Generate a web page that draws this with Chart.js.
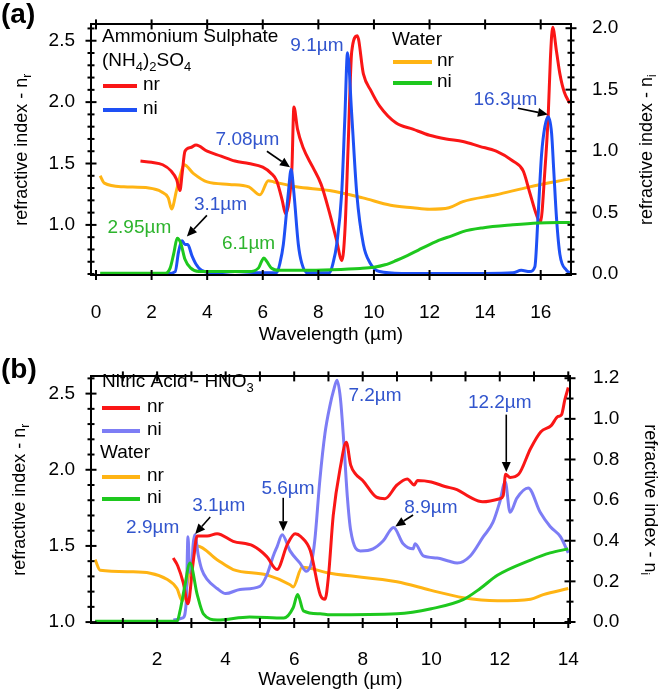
<!DOCTYPE html>
<html>
<head>
<meta charset="utf-8">
<script src="https://cdn.jsdelivr.net/npm/chart.js@4.4.1/dist/chart.umd.min.js"></script>
<style>
  html, body { margin: 0; padding: 0; background: #fff; }
  canvas { display: block; }
</style>
</head>
<body>
<canvas id="chartA" width="661" height="350"></canvas>
<canvas id="chartB" width="661" height="345"></canvas>
<script>
// ---------- panel (a): ammonium sulphate vs water ----------
const sulphNrX = [1.6, 2.0, 2.4, 2.7, 2.9, 3.02, 3.1, 3.2, 3.4, 3.6, 4.0, 4.5, 5.0, 5.5, 6.0, 6.3, 6.5, 6.7, 6.82, 6.95, 7.05, 7.12, 7.25, 7.45, 7.8, 8.1, 8.4, 8.65, 8.85, 8.96, 9.07, 9.2, 9.4, 9.62, 9.9, 10.2, 10.8, 11.4, 12.0, 12.6, 13.2, 13.8, 14.4, 15.0, 15.37, 15.61, 15.85, 15.99, 16.15, 16.27, 16.35, 16.43, 16.57, 16.69, 16.85, 17.05];
const sulphNrY = [1.52, 1.51, 1.49, 1.44, 1.37, 1.28, 1.42, 1.60, 1.63, 1.65, 1.60, 1.56, 1.52, 1.50, 1.47, 1.42, 1.36, 1.20, 1.09, 1.20, 1.47, 1.96, 1.78, 1.63, 1.47, 1.33, 1.10, 0.88, 0.71, 0.97, 1.63, 2.41, 2.54, 2.23, 2.09, 1.97, 1.83, 1.78, 1.73, 1.70, 1.68, 1.64, 1.60, 1.52, 1.44, 1.26, 1.08, 1.02, 1.44, 1.89, 2.36, 2.61, 2.41, 2.23, 2.08, 1.99];

const sulphNiX = [1.6, 2.6, 2.85, 2.97, 3.1, 3.2, 3.3, 3.45, 3.6, 3.8, 4.3, 5.0, 6.0, 6.5, 6.62, 6.74, 6.92, 7.02, 7.12, 7.28, 7.4, 7.6, 8.0, 8.4, 8.53, 8.66, 8.84, 8.95, 9.05, 9.2, 9.38, 9.62, 9.86, 10.2, 11.0, 12.0, 13.0, 14.0, 15.0, 15.3, 15.6, 15.79, 15.9, 16.03, 16.15, 16.27, 16.39, 16.47, 16.57, 16.69, 16.93, 17.05];
const sulphNiY = [0.005, 0.005, 0.02, 0.18, 0.27, 0.24, 0.24, 0.15, 0.08, 0.03, 0.01, 0.02, 0.01, 0.01, 0.09, 0.24, 0.66, 0.85, 0.66, 0.24, 0.09, 0.01, 0.01, 0.01, 0.09, 0.24, 0.66, 1.25, 1.80, 1.3, 0.66, 0.24, 0.09, 0.02, 0.005, 0.005, 0.005, 0.005, 0.01, 0.03, 0.02, 0.06, 0.45, 0.97, 1.2, 1.28, 1.15, 0.84, 0.45, 0.16, 0.03, 0.01];

const waterNrAX = [0.15, 0.3, 1.0, 1.9, 2.35, 2.6, 2.72, 2.9, 3.05, 3.17, 3.5, 4.0, 4.8, 5.5, 5.9, 6.2, 6.4, 7.2, 8.4, 9.6, 10.6, 11.4, 12.0, 12.7, 13.2, 14.4, 15.6, 17.05];
const waterNrAY = [1.40, 1.34, 1.31, 1.30, 1.27, 1.22, 1.13, 1.285, 1.42, 1.49, 1.42, 1.35, 1.33, 1.31, 1.245, 1.36, 1.35, 1.31, 1.28, 1.22, 1.16, 1.14, 1.128, 1.14, 1.19, 1.245, 1.31, 1.375];

const waterNiAX = [0.15, 1.0, 2.0, 2.5, 2.67, 2.8, 2.92, 3.05, 3.2, 3.4, 3.7, 4.5, 5.5, 5.85, 5.95, 6.04, 6.15, 6.3, 6.6, 7.5, 8.5, 9.5, 10.0, 10.4, 10.8, 11.2, 11.6, 12.0, 12.4, 12.8, 13.2, 13.9, 15.0, 15.9, 17.05];
const waterNiAY = [0.006, 0.006, 0.006, 0.006, 0.05, 0.17, 0.29, 0.25, 0.12, 0.05, 0.02, 0.02, 0.02, 0.05, 0.10, 0.13, 0.10, 0.05, 0.03, 0.03, 0.035, 0.045, 0.055, 0.075, 0.11, 0.15, 0.195, 0.24, 0.28, 0.31, 0.345, 0.375, 0.40, 0.415, 0.42];

// ---------- panel (b): nitric acid vs water ----------
const nitricNrX = [2.47, 2.6, 2.76, 2.9, 3.05, 3.17, 3.46, 3.75, 4.22, 4.8, 5.2, 5.5, 5.8, 6.03, 6.2, 6.47, 6.76, 6.9, 7.0, 7.14, 7.35, 7.52, 7.65, 7.8, 8.0, 8.4, 8.65, 9.0, 9.3, 9.5, 9.6, 10.0, 10.4, 10.75, 11.13, 11.5, 12.0, 12.1, 12.17, 12.3, 12.55, 12.9, 13.2, 13.5, 13.7, 13.8, 13.9, 14.0];
const nitricNrY = [1.42, 1.37, 1.26, 1.12, 1.39, 1.565, 1.565, 1.58, 1.53, 1.50, 1.43, 1.345, 1.51, 1.58, 1.56, 1.47, 1.18, 1.15, 1.30, 1.70, 2.02, 2.18, 2.03, 1.97, 1.93, 1.82, 1.81, 1.90, 1.94, 1.90, 1.93, 1.92, 1.89, 1.87, 1.82, 1.79, 1.81, 1.83, 1.97, 1.95, 1.97, 2.14, 2.25, 2.29, 2.35, 2.36, 2.46, 2.54];

const nitricNiX = [2.47, 2.75, 2.85, 2.9, 2.95, 3.0, 3.05, 3.1, 3.2, 3.3, 3.46, 3.75, 4.0, 4.42, 5.0, 5.2, 5.4, 5.5, 5.65, 5.88, 6.17, 6.35, 6.5, 6.6, 6.75, 6.9, 7.05, 7.15, 7.25, 7.35, 7.45, 7.55, 7.65, 7.93, 8.3, 8.6, 8.9, 9.18, 9.47, 9.53, 9.77, 10.17, 10.5, 10.76, 11.14, 11.52, 11.8, 12.0, 12.16, 12.3, 12.5, 12.83, 13.18, 13.47, 13.77, 14.0];
const nitricNiY = [0.01, 0.02, 0.1, 0.42, 0.25, 0.24, 0.38, 0.43, 0.33, 0.26, 0.21, 0.165, 0.14, 0.16, 0.175, 0.23, 0.33, 0.37, 0.43, 0.35, 0.29, 0.25, 0.29, 0.4, 0.7, 0.93, 1.07, 1.14, 1.19, 1.1, 0.88, 0.62, 0.45, 0.35, 0.36, 0.40, 0.465, 0.385, 0.36, 0.385, 0.325, 0.315, 0.30, 0.29, 0.325, 0.42, 0.49, 0.59, 0.69, 0.54, 0.61, 0.66, 0.54, 0.47, 0.42, 0.34];

const waterNrBX = [0.19, 0.34, 1.3, 2.3, 2.58, 2.73, 3.02, 3.17, 3.75, 4.22, 5.2, 5.88, 5.97, 6.23, 7.05, 9.0, 9.97, 10.93, 11.93, 12.9, 13.27, 14.0];
const waterNrBY = [1.41, 1.34, 1.33, 1.28, 1.22, 1.14, 1.41, 1.50, 1.41, 1.345, 1.31, 1.245, 1.23, 1.36, 1.32, 1.265, 1.21, 1.16, 1.14, 1.15, 1.18, 1.22];

const waterNiBX = [0.19, 1.5, 2.58, 2.67, 2.8, 2.96, 3.17, 3.35, 3.75, 4.7, 5.7, 5.97, 6.1, 6.27, 6.76, 7.05, 9.0, 10.0, 10.93, 11.43, 11.93, 12.9, 13.47, 14.0];
const waterNiBY = [0.003, 0.003, 0.003, 0.056, 0.17, 0.29, 0.135, 0.04, 0.01, 0.025, 0.02, 0.07, 0.135, 0.055, 0.04, 0.035, 0.04, 0.065, 0.11, 0.165, 0.23, 0.305, 0.34, 0.36];

// tick labels
const aXLabels = [0, 2, 4, 6, 8, 10, 12, 14, 16];
const aLeftLabels = [1.0, 1.5, 2.0, 2.5];
const aRightLabels = [0.0, 0.5, 1.0, 1.5, 2.0];
const bXLabels = [2, 4, 6, 8, 10, 12, 14];
const bXMarks = [1, 2, 3, 4, 5, 6, 7, 8, 9, 10, 11, 12, 13, 14];
const bLeftLabels = [1.0, 1.5, 2.0, 2.5];
const bRightLabels = [0.0, 0.2, 0.4, 0.6, 0.8, 1.0, 1.2];

const RED = 'rgb(250,22,22)';
const BLUE = 'rgb(30,80,245)';
const LAVENDER = 'rgb(125,125,245)';
const ORANGE = 'rgb(255,180,20)';
const GREEN = 'rgb(30,200,30)';
const NOTE_BLUE = 'rgb(50,85,205)';
const NOTE_GREEN = 'rgb(45,180,45)';
const FAMILY = "'Liberation Sans', Arial, sans-serif";
const TEXT = 19;

// minor tick helper (every 0.1)
const tenths = (lo, hi) => {
    let out = [];
    for (let i = Math.round(lo * 10); i <= Math.round(hi * 10); i++) out.push(i / 10);
    return out;
};
const hasValue = (list, v) => list.some(m => Math.abs(m - v) < 1e-6);

const pts = (xs, ys) => xs.map((x, i) => ({ x: x, y: ys[i] }));

Chart.defaults.font.family = FAMILY;
Chart.defaults.font.size = TEXT;
Chart.defaults.color = '#000';

function drawRich(ctx, parts, x, y, size, align) {
    const base = size + 'px ' + FAMILY;
    const sub = Math.round(size * 0.68) + 'px ' + FAMILY;
    let total = 0;
    parts.forEach(p => { ctx.font = p[1] ? sub : base; total += ctx.measureText(p[0]).width; });
    let cx = align === 'center' ? x - total / 2 : x;
    ctx.textAlign = 'left';
    ctx.textBaseline = 'middle';
    parts.forEach(p => {
        ctx.font = p[1] ? sub : base;
        ctx.fillText(p[0], cx, p[1] ? y + size * 0.32 : y);
        cx += ctx.measureText(p[0]).width;
    });
}

function arrow(ctx, x1, y1, x2, y2) {
    const ang = Math.atan2(y2 - y1, x2 - x1);
    const hl = 10, hw = 4.5;
    const bx = x2 - hl * Math.cos(ang), by = y2 - hl * Math.sin(ang);
    ctx.beginPath(); ctx.moveTo(x1, y1); ctx.lineTo(bx, by); ctx.stroke();
    ctx.beginPath();
    ctx.moveTo(x2, y2);
    ctx.lineTo(bx + hw * Math.sin(ang), by - hw * Math.cos(ang));
    ctx.lineTo(bx - hw * Math.sin(ang), by + hw * Math.cos(ang));
    ctx.closePath(); ctx.fill();
}

// cross ticks on all four sides of the box
function crossTicks(chart, spec) {
    const ctx = chart.ctx;
    const a = chart.chartArea;
    ctx.strokeStyle = '#000';
    ctx.lineWidth = 2;
    const seg = (x1, y1, x2, y2) => { ctx.beginPath(); ctx.moveTo(x1, y1); ctx.lineTo(x2, y2); ctx.stroke(); };
    spec.xMarks.forEach(v => {
        const px = chart.scales.x.getPixelForValue(v);
        seg(px, a.bottom - 5, px, a.bottom + 5);
        seg(px, a.top - 5, px, a.top + 5);
    });
    spec.yMinor.forEach(v => {
        const py = chart.scales.y.getPixelForValue(v);
        const len = hasValue(spec.yMajor, v) ? 5.5 : 3.5;
        seg(a.left - len, py, a.left + len, py);
    });
    spec.y2Minor.forEach(v => {
        const py = chart.scales.y2.getPixelForValue(v);
        const len = hasValue(spec.y2Major, v) ? 5.5 : 3.5;
        seg(a.right - len, py, a.right + len, py);
    });
}

// legend blocks, y titles, panel letter, notes and arrows
const makeDecor = o => ({
    id: 'decor',
    afterDraw(chart) {
        const { ctx, chartArea: a, scales } = chart;
        const ds = chart.data.datasets;
        ctx.save();
        ctx.fillStyle = '#000';
        ctx.font = 'bold 28px ' + FAMILY;
        ctx.textAlign = 'left';
        ctx.textBaseline = 'alphabetic';
        ctx.fillText(o.panel, 1, o.panelY);

        o.legend.forEach(e => {
            ctx.fillStyle = '#000';
            if (e.head) {
                drawRich(ctx, e.head, e.x, e.y, TEXT, 'left');
            } else {
                ctx.strokeStyle = ds[e.ds].borderColor;
                ctx.lineWidth = 4;
                ctx.beginPath(); ctx.moveTo(e.x, e.y); ctx.lineTo(e.x + e.len, e.y); ctx.stroke();
                drawRich(ctx, [[ds[e.ds].label]], e.x + e.gap, e.y - 1, TEXT, 'left');
            }
        });

        const cy = (a.top + a.bottom) / 2;
        o.titles.forEach(t => {
            ctx.save();
            ctx.translate(t.x, cy);
            ctx.rotate(t.rot);
            ctx.fillStyle = '#000';
            drawRich(ctx, t.parts, 0, 0, 18, 'center');
            ctx.restore();
        });

        o.notes.forEach(n => {
            ctx.fillStyle = n.color;
            ctx.font = TEXT + 'px ' + FAMILY;
            ctx.textAlign = n.align || 'center';
            ctx.textBaseline = 'middle';
            ctx.fillText(n.text, scales.x.getPixelForValue(n.x), scales.y.getPixelForValue(n.y));
        });
        ctx.strokeStyle = '#000';
        ctx.fillStyle = '#000';
        ctx.lineWidth = 1.6;
        o.arrows.forEach(r => {
            arrow(ctx, scales.x.getPixelForValue(r[0]), scales.y.getPixelForValue(r[1]),
                scales.x.getPixelForValue(r[2]), scales.y.getPixelForValue(r[3]));
        });
        crossTicks(chart, o.frame);
        ctx.restore();
    }
});

const line = (label, xs, ys, color, axis, order) => ({
    label: label,
    data: pts(xs, ys),
    borderColor: color,
    backgroundColor: color,
    borderWidth: 3,
    pointRadius: 0,
    fill: false,
    cubicInterpolationMode: 'monotone',
    yAxisID: axis,
    order: order
});

const edge = { display: true, color: '#000', width: 2, z: 1 };

const yScale = (pos, min, max, labels, width, pad) => ({
    type: 'linear',
    position: pos,
    min: min,
    max: max,
    grid: { display: false },
    border: edge,
    afterBuildTicks: s => { s.ticks = labels.map(v => ({ value: v })); },
    afterFit: s => { s.width = width; },
    ticks: { padding: pad, autoSkip: false, callback: v => Number(v).toFixed(1) }
});

const xScale = (min, max, labels, height, pad) => ({
    type: 'linear',
    position: 'bottom',
    min: min,
    max: max,
    grid: { display: false },
    border: edge,
    afterBuildTicks: s => { s.ticks = labels.map(v => ({ value: v })); },
    afterFit: s => { s.height = height; },
    ticks: { padding: pad, maxRotation: 0, autoSkip: false, callback: v => String(v) },
    title: { display: true, text: 'Wavelength (µm)', padding: { top: 0, bottom: 4 } }
});

const topScale = (min, max) => ({
    type: 'linear',
    position: 'top',
    min: min,
    max: max,
    grid: { display: false },
    border: edge,
    afterFit: s => { s.height = 5; },
    ticks: { display: false }
});

const baseOptions = scales => ({
    responsive: false,
    animation: false,
    devicePixelRatio: 1,
    layout: { padding: { top: 10, left: 0, right: 0, bottom: 0 } },
    scales: scales,
    plugins: { legend: { display: false }, tooltip: { enabled: false } }
});

new Chart(document.getElementById('chartA'), {
    type: 'line',
    data: {
        datasets: [
            line('nr', sulphNrX, sulphNrY, RED, 'y', 2),
            line('ni', sulphNiX, sulphNiY, BLUE, 'y2', 1),
            line('nr', waterNrAX, waterNrAY, ORANGE, 'y', 3),
            line('ni', waterNiAX, waterNiAY, GREEN, 'y2', 0)
        ]
    },
    options: baseOptions({
        x: xScale(-0.18, 17.09, aXLabels, 75, 18),
        xt: topScale(-0.18, 17.09),
        y: yScale('left', 0.592, 2.633, aLeftLabels, 91, 8),
        y2: yScale('right', -0.008, 2.031, aRightLabels, 90, 13)
    }),
    plugins: [
        makeDecor({
            frame: {
                xMarks: aXLabels,
                yMajor: aLeftLabels, yMinor: tenths(0.6, 2.6),
                y2Major: aRightLabels, y2Minor: tenths(0, 2.0)
            },
            panel: '(a)', panelY: 23,
            legend: [
                { head: [['Ammonium Sulphate']], x: 102, y: 37 },
                { head: [['(NH'], ['4', 1], [')'], ['2', 1], ['SO'], ['4', 1]], x: 102, y: 61 },
                { ds: 0, x: 103, y: 86, len: 34, gap: 40 },
                { ds: 1, x: 103, y: 110, len: 34, gap: 40 },
                { head: [['Water']], x: 392, y: 40 },
                { ds: 2, x: 393, y: 62, len: 39, gap: 44 },
                { ds: 3, x: 393, y: 83, len: 39, gap: 44 }
            ],
            titles: [
                { parts: [['refractive index - n'], ['r', 1]], x: 22, rot: -Math.PI / 2 },
                { parts: [['refractive index - n'], ['i', 1]], x: 647, rot: -Math.PI / 2 }
            ],
            notes: [
                { text: '9.1µm', x: 6.99, y: 2.46, color: NOTE_BLUE, align: 'left' },
                { text: '7.08µm', x: 5.45, y: 1.69, color: NOTE_BLUE },
                { text: '3.1µm', x: 4.48, y: 1.165, color: NOTE_BLUE },
                { text: '2.95µm', x: 1.56, y: 0.98, color: NOTE_GREEN },
                { text: '6.1µm', x: 5.49, y: 0.843, color: NOTE_GREEN },
                { text: '16.3µm', x: 14.73, y: 2.02, color: NOTE_BLUE }
            ],
            arrows: [
                [6.15, 1.60, 6.98, 1.47],
                [3.99, 1.078, 3.27, 0.906],
                [15.18, 1.95, 16.26, 1.90]
            ]
        })
    ]
});

new Chart(document.getElementById('chartB'), {
    type: 'line',
    data: {
        datasets: [
            line('nr', nitricNrX, nitricNrY, RED, 'y', 1),
            line('ni', nitricNiX, nitricNiY, LAVENDER, 'y2', 2),
            line('nr', waterNrBX, waterNrBY, ORANGE, 'y', 3),
            line('ni', waterNiBX, waterNiBY, GREEN, 'y2', 0)
        ]
    },
    options: baseOptions({
        x: xScale(0.07, 14.05, bXLabels, 72, 17),
        xt: topScale(0.07, 14.05),
        y: yScale('left', 0.994, 2.613, bLeftLabels, 91, 8),
        y2: yScale('right', -0.005, 1.209, bRightLabels, 91, 15)
    }),
    plugins: [
        makeDecor({
            frame: {
                xMarks: bXMarks,
                yMajor: bLeftLabels, yMinor: tenths(1.0, 2.6),
                y2Major: bRightLabels, y2Minor: tenths(0, 1.2)
            },
            panel: '(b)', panelY: 28,
            legend: [
                { head: [['Nitric Acid - HNO'], ['3', 1]], x: 102, y: 32 },
                { ds: 0, x: 102, y: 58, len: 38, gap: 45 },
                { ds: 1, x: 102, y: 81, len: 38, gap: 45 },
                { head: [['Water']], x: 100, y: 103 },
                { ds: 2, x: 102, y: 127, len: 38, gap: 45 },
                { ds: 3, x: 102, y: 149, len: 38, gap: 45 }
            ],
            titles: [
                { parts: [['refractive index - n'], ['r', 1]], x: 20, rot: -Math.PI / 2 },
                { parts: [['refractive index - n'], ['i', 1]], x: 650, rot: Math.PI / 2 }
            ],
            notes: [
                { text: '2.9µm', x: 1.87, y: 1.62, color: NOTE_BLUE },
                { text: '3.1µm', x: 3.80, y: 1.766, color: NOTE_BLUE },
                { text: '5.6µm', x: 5.82, y: 1.873, color: NOTE_BLUE },
                { text: '7.2µm', x: 8.36, y: 2.488, color: NOTE_BLUE },
                { text: '8.9µm', x: 9.99, y: 1.753, color: NOTE_BLUE },
                { text: '12.2µm', x: 12.0, y: 2.438, color: NOTE_BLUE }
            ],
            arrows: [
                [3.55, 1.69, 3.11, 1.578],
                [5.68, 1.816, 5.68, 1.596],
                [9.47, 1.703, 8.95, 1.628],
                [12.19, 2.362, 12.19, 1.986]
            ]
        })
    ]
});
</script>
</body>
</html>
